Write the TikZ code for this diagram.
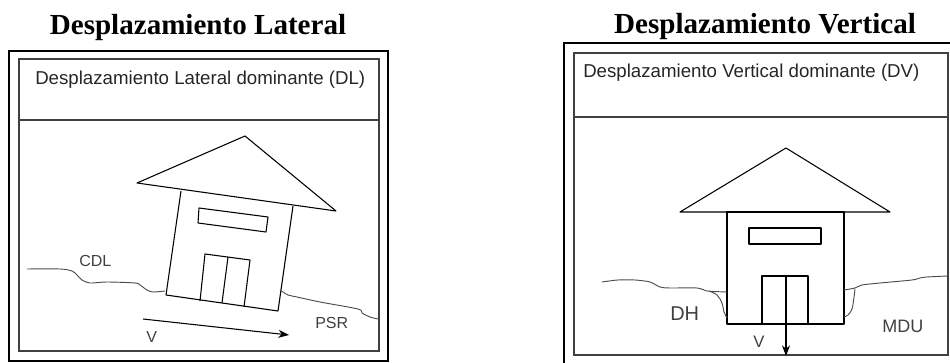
\documentclass[tikz,border=0pt]{standalone}
\usepackage{fontspec}
\setmainfont{Liberation Serif}
\newfontfamily\labelfont{Liberation Sans}
\usetikzlibrary{arrows.meta}
\begin{document}
\begin{tikzpicture}[x=0.75pt,y=-0.75pt,
  title/.style={inner sep=0pt,anchor=base,font=\fontsize{21.8}{26}\selectfont\bfseries},
  header/.style={inner sep=0pt,anchor=base west,text=black!85,font=\labelfont\fontsize{14}{17}\selectfont},
  tag/.style={inner sep=0pt,anchor=base west,text=black!75,font=\labelfont\fontsize{12}{14}\selectfont},
  outerframe/.style={draw=black,line width=1.5pt},
  innerframe/.style={draw=black!75,line width=1.1pt},
  wall/.style={draw=black,line width=0.8pt,line join=round},
  ground/.style={draw=black!70,line width=0.7pt},
  motion/.style={draw=black,line width=0.8pt,-{Stealth[length=8pt,width=6pt]}}]
\useasboundingbox (0,0) rectangle (950,363);

% ---------- lateral displacement ----------
\node[title] (titleL) at (198,34.5) {Desplazamiento Lateral};
\draw[outerframe] (9,51) rectangle (388,361);
\draw[innerframe] (19,59) rectangle (379,351);
\draw[innerframe] (19,120) -- (379,120);
\node[header] (headL) at (35,85) {Desplazamiento Lateral dominante (DL)};

% tilted house
\draw[wall] (137,183) -- (245,136) -- (336,211) -- cycle;
\draw[wall] (181,191) -- (166,295) -- (278,311) -- (293,206);
\draw[wall] (199,208) -- (268,217) -- (266,232) -- (198,223) -- cycle;
\draw[wall] (200,301) -- (205,254) -- (250,260) -- (244,307);
\draw[wall] (228,257) -- (222,303);

% ground surface on both sides
\draw[ground] plot[smooth,tension=0.5] coordinates {(27,269) (60,269) (72,271) (77,275) (82,280) (90,283) (107,282) (135,283) (140,285) (147,290) (153,292) (165,291)};
\draw[ground] plot[smooth,tension=0.5] coordinates {(280,290) (283,292) (288,295) (297,297) (320,302) (358,309) (362,313) (370,317) (378,319)};

\coordinate (vLa) at (143,319);
\coordinate (vLb) at (289,335);
\draw[motion] (vLa) -- (vLb);
\node[tag] (cdl) at (79,267) {CDL};
\node[tag] (psr) at (315,329) {PSR};
\node[tag] (vL) at (146,343) {V};

% ---------- vertical displacement ----------
\node[title] (titleR) at (765,34) {Desplazamiento Vertical};
\draw[outerframe] (564,366) -- (564,43) -- (953,43);
\draw[innerframe] (574,53) rectangle (948,355);
\draw[innerframe] (574,117) -- (948,117);
\node[header] (headR) at (583,78) {Desplazamiento Vertical dominante (DV)};

% upright house
\draw[wall] (680,212) -- (786,148) -- (890,212) -- cycle;
\draw[wall] (727,212) rectangle (844,324);
\draw[wall] (749,228) rectangle (821,244);
\draw[wall] (762,324) -- (762,276) -- (808,276) -- (808,324);

% ground and settlement depressions
\draw[ground] plot[smooth,tension=0.5] coordinates {(602,282) (618,280) (635,280) (650,282) (660,287) (670,288) (697,288) (707,291) (727,292)};
\draw[ground] plot[smooth,tension=0.6] coordinates {(709,291) (717,295) (722,303) (724,312) (727,318)};
\draw[ground] plot[smooth,tension=0.5] coordinates {(844,290) (855,288) (862,285) (880,283) (912,280) (920,278) (927,277) (948,276)};
\draw[ground] plot[smooth,tension=0.6] coordinates {(855,289) (854,297) (852,309) (848,315) (844,317)};

\coordinate (vRa) at (786,276);
\coordinate (vRb) at (786,356);
\draw[motion] (vRa) -- (vRb);
\node[tag,font=\labelfont\fontsize{15}{18}\selectfont] (dh) at (670,321) {DH};
\node[tag,font=\labelfont\fontsize{13.5}{16}\selectfont] (mdu) at (882,333) {MDU};
\node[tag,font=\labelfont\fontsize{12.5}{15}\selectfont] (vR) at (753,348) {V};
\end{tikzpicture}
\end{document}
